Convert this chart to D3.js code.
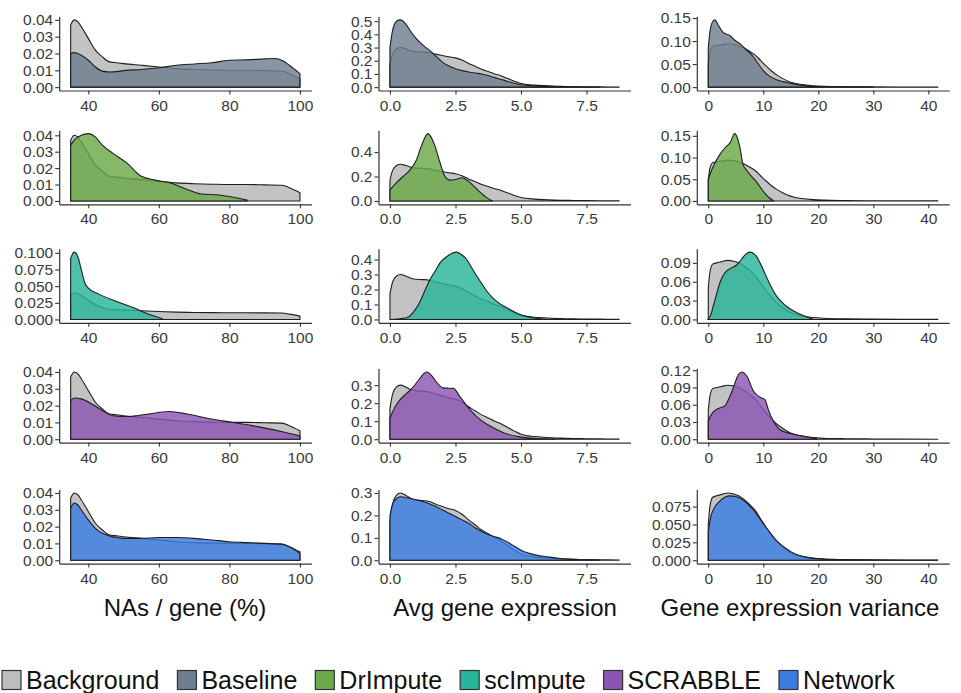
<!DOCTYPE html>
<html><head><meta charset="utf-8">
<script src="https://cdn.jsdelivr.net/npm/d3@7"></script>
<style>body{margin:0;background:#fff;} svg{display:block;} text{font-family:"Liberation Sans",Arial,Helvetica,sans-serif;}</style>
</head><body><svg id="chart" width="961" height="693"></svg>
<script>
// ---------- DATA ----------
const methods = ["Baseline","DrImpute","scImpute","SCRABBLE","Network"];
const legendLabels = ["Background","Baseline","DrImpute","scImpute","SCRABBLE","Network"];
const metricTitles = ["NAs / gene (%)","Avg gene expression","Gene expression variance"];

// Column 1: NAs / gene (%)
const naBackgroundX = [35,36,37,38,40,42,44,46,48,50,55,60,65,70,75,80,85,90,95,97,100];
const naBackgroundY = [0.037,0.040,0.039,0.036,0.029,0.022,0.018,0.015,0.0145,0.014,0.013,0.012,0.011,0.0105,0.0102,0.010,0.010,0.0098,0.0096,0.008,0.005];
const naBaselineX = [35,36,37,38,40,42,44,46,48,50,55,60,65,70,75,80,85,90,93,95,97,100];
const naBaselineY = [0.020,0.0205,0.020,0.019,0.016,0.012,0.0095,0.009,0.0092,0.0098,0.0105,0.0115,0.013,0.0138,0.0145,0.016,0.0162,0.0168,0.017,0.0158,0.013,0.008];
const naDrImputeX = [35,36,38,40,42,44,47,51,55,59,64,68,72,77,83,85];
const naDrImputeY = [0.034,0.037,0.040,0.041,0.039,0.034,0.029,0.023,0.015,0.0127,0.0105,0.007,0.0042,0.0036,0.0015,0.0005];
const naScImputeX = [35,36,37,38,39,40,43,48,53,57,61];
const naScImputeY = [0.092,0.101,0.095,0.075,0.055,0.047,0.038,0.027,0.017,0.008,0.001];
const naScrabbleX = [35,36,38,41,44,47,51,57,63,68,75,81,88,95,100];
const naScrabbleY = [0.023,0.0245,0.024,0.021,0.017,0.014,0.0135,0.015,0.0165,0.015,0.012,0.010,0.0075,0.0045,0.002];
const naNetworkX = [35,36,37,38,40,42,44,46,48,50,55,60,65,70,75,80,85,90,95,97,100];
const naNetworkY = [0.031,0.034,0.033,0.030,0.024,0.019,0.016,0.0145,0.0135,0.013,0.013,0.0135,0.0135,0.013,0.012,0.011,0.0105,0.010,0.0095,0.008,0.004];

// Column 2: Avg gene expression
const exBackgroundX = [0,0.1,0.25,0.4,0.6,0.8,1.0,1.25,1.5,1.75,2.0,2.25,2.5,2.75,3.0,3.25,3.5,3.75,4.0,4.25,4.5,4.75,5.0,5.5,6.0,6.5,7.0,7.5,8.0,8.74];
const exBackgroundY = [0.17,0.25,0.29,0.30,0.29,0.275,0.268,0.266,0.262,0.25,0.24,0.23,0.222,0.205,0.18,0.158,0.135,0.118,0.1,0.085,0.065,0.045,0.028,0.015,0.01,0.006,0.004,0.003,0.002,0.001];
const exBaselineX = [0,0.1,0.25,0.4,0.6,0.8,1.0,1.25,1.5,1.75,2.0,2.25,2.5,2.75,3.0,3.25,3.5,3.75,4.0,4.25,4.5,4.75,5.0,5.5,6.0,6.5,7.0,7.5,8.0];
const exBaselineY = [0.3,0.43,0.5,0.51,0.48,0.42,0.37,0.32,0.28,0.235,0.19,0.16,0.14,0.125,0.115,0.107,0.1,0.088,0.072,0.058,0.043,0.03,0.018,0.01,0.006,0.004,0.002,0.001,0.0005];
const exDrImputeX = [0,0.25,0.5,0.75,1.0,1.2,1.45,1.7,1.9,2.1,2.3,2.5,2.75,3.0,3.25,3.5,3.7,3.9];
const exDrImputeY = [0.09,0.15,0.2,0.25,0.33,0.45,0.55,0.46,0.32,0.2,0.17,0.175,0.19,0.16,0.11,0.06,0.025,0.002];
const exScImputeX = [0,0.3,0.64,0.9,1.15,1.35,1.53,1.75,1.91,2.1,2.3,2.54,2.75,2.93,3.1,3.31,3.5,3.69,4.07,4.58,4.96,5.47,5.98];
const exScImputeY = [0,0.003,0.011,0.05,0.12,0.2,0.267,0.33,0.378,0.41,0.435,0.449,0.43,0.4,0.35,0.29,0.24,0.19,0.12,0.067,0.033,0.011,0.001];
const exScrabbleX = [0,0.2,0.38,0.6,0.83,1.05,1.27,1.4,1.55,1.72,2.03,2.25,2.42,2.67,3.05,3.44,3.82,4.33,4.96,5.6,6.3];
const exScrabbleY = [0.118,0.18,0.218,0.25,0.28,0.32,0.36,0.373,0.36,0.327,0.285,0.283,0.282,0.236,0.164,0.109,0.073,0.036,0.013,0.004,0.001];
const exNetworkX = [0,0.1,0.25,0.4,0.6,0.8,1.0,1.25,1.5,1.75,2.0,2.25,2.5,2.75,3.0,3.25,3.5,3.75,4.0,4.25,4.5,4.75,5.0,5.5,6.0,6.5,7.0,7.5,8.0];
const exNetworkY = [0.2,0.25,0.275,0.283,0.28,0.275,0.27,0.262,0.252,0.24,0.225,0.21,0.195,0.18,0.165,0.145,0.128,0.115,0.105,0.095,0.08,0.062,0.045,0.025,0.015,0.008,0.004,0.002,0.0005];

// Column 3: Gene expression variance
const vaBackgroundX = [0,0.3,0.8,1.5,2.5,3.5,4.5,5.5,6.5,7.5,8.5,9.5,10.5,11.5,12.5,13.5,14.5,15.5,17,19,21,25,30,35,41.7];
const vaBackgroundY = [0.05,0.075,0.088,0.09,0.092,0.094,0.093,0.09,0.085,0.078,0.07,0.058,0.046,0.035,0.026,0.019,0.013,0.009,0.0055,0.003,0.0018,0.0009,0.0005,0.0003,0.0001];
const vaBaselineX = [0,0.3,0.7,1.2,1.8,2.7,3.9,5,5.8,7,8.2,9,10,11,12.4,13.5,14.9,16.5,17.9,20,25,30];
const vaBaselineY = [0.085,0.12,0.14,0.146,0.135,0.119,0.112,0.1,0.094,0.08,0.066,0.052,0.036,0.025,0.016,0.012,0.0086,0.005,0.003,0.0015,0.0005,0.0001];
const vaDrImputeX = [0,0.5,1,2,3,4,4.8,5.3,5.8,6.3,7,8,9,10,11,11.8];
const vaDrImputeY = [0.05,0.068,0.082,0.105,0.122,0.135,0.155,0.145,0.12,0.085,0.07,0.055,0.04,0.022,0.008,0.001];
const vaScImputeX = [0,0.5,0.9,1.5,2.1,2.7,3.3,4.2,5.2,5.8,6.4,7,7.6,8.2,8.8,9.4,10,11.2,12.4,14.2,16.1,17.9,19];
const vaScImputeY = [0,0.008,0.021,0.04,0.058,0.07,0.077,0.082,0.087,0.093,0.1,0.105,0.107,0.105,0.1,0.09,0.079,0.056,0.037,0.021,0.0106,0.004,0.0005];
const vaScrabbleX = [0,0.7,1.5,3,4.2,5.5,6.1,7,8.2,9.4,10.3,10.9,11.8,13,15.5,17.9,19.7];
const vaScrabbleY = [0.032,0.045,0.052,0.058,0.081,0.1125,0.117,0.11,0.084,0.073,0.069,0.052,0.032,0.017,0.0087,0.004,0.001];
const vaNetworkX = [0,0.5,1,2,3,4,5,6,7,8,9,10,11,12,13,14,15,16,18,20,25,30,41.7];
const vaNetworkY = [0.04,0.062,0.072,0.082,0.088,0.09,0.089,0.086,0.08,0.072,0.062,0.051,0.041,0.031,0.023,0.017,0.012,0.008,0.004,0.002,0.0008,0.0003,0];

// Tick values
const xTicksNA = [40,60,80,100];
const xTicksEx = [0,2.5,5,7.5];
const xTicksVa = [0,10,20,30,40];
const yTicksNA = [[0,0.01,0.02,0.03,0.04],[0,0.01,0.02,0.03,0.04],[0,0.025,0.05,0.075,0.1],[0,0.01,0.02,0.03,0.04],[0,0.01,0.02,0.03,0.04]];
const yTicksEx = [[0,0.1,0.2,0.3,0.4,0.5],[0,0.2,0.4],[0,0.1,0.2,0.3,0.4],[0,0.1,0.2,0.3],[0,0.1,0.2,0.3]];
const yTicksVa = [[0,0.05,0.1,0.15],[0,0.05,0.1,0.15],[0,0.03,0.06,0.09],[0,0.03,0.06,0.09,0.12],[0,0.025,0.05,0.075]];

// ---------- ASSEMBLY ----------
const zip = (xs, ys) => xs.map((x,i) => [x, ys[i]]);
const columns = [
  { bg: zip(naBackgroundX, naBackgroundY),
    m: [zip(naBaselineX,naBaselineY), zip(naDrImputeX,naDrImputeY), zip(naScImputeX,naScImputeY), zip(naScrabbleX,naScrabbleY), zip(naNetworkX,naNetworkY)],
    xTicks: xTicksNA, xFmt: d3.format("d"), yTicks: yTicksNA },
  { bg: zip(exBackgroundX, exBackgroundY),
    m: [zip(exBaselineX,exBaselineY), zip(exDrImputeX,exDrImputeY), zip(exScImputeX,exScImputeY), zip(exScrabbleX,exScrabbleY), zip(exNetworkX,exNetworkY)],
    xTicks: xTicksEx, xFmt: d3.format(".1f"), yTicks: yTicksEx },
  { bg: zip(vaBackgroundX, vaBackgroundY),
    m: [zip(vaBaselineX,vaBaselineY), zip(vaDrImputeX,vaDrImputeY), zip(vaScImputeX,vaScImputeY), zip(vaScrabbleX,vaScrabbleY), zip(vaNetworkX,vaNetworkY)],
    xTicks: xTicksVa, xFmt: d3.format("d"), yTicks: yTicksVa }
];
const yFmt = ticks => {
  const dec = Math.max(...ticks.map(t => { const s = String(t); const i = s.indexOf("."); return i < 0 ? 0 : s.length - i - 1; }));
  return d3.format("." + Math.max(dec, 1) + "f");
};

const colors = { Background:"#bdbdbd", Baseline:"#6e7f90", DrImpute:"#6aaa48", scImpute:"#28b49a", SCRABBLE:"#8c55b4", Network:"#3a7ee0" };

// ---------- LAYOUT ----------
const colX = [[59.2,311.4],[378.5,630.5],[696.8,949.2]];
const titleX = [185, 505, 800];
const rowBottom = [90.5, 204.3, 322.8, 442.6, 563.6];
const panelH = 74;

const svg = d3.select("#chart");

columns.forEach((col, ci) => {
  const allX = col.bg.map(d=>d[0]).concat(...col.m.map(s => s.map(d=>d[0])));
  const [xmin, xmax] = d3.extent(allX);
  const pad = (xmax - xmin) * 0.05;
  const x = d3.scaleLinear().domain([xmin - pad, xmax + pad]).range(colX[ci]);
  methods.forEach((mName, ri) => {
    const series = col.m[ri];
    const ymax = d3.max(col.bg.concat(series), d => d[1]);
    const y = d3.scaleLinear().domain([-0.05*ymax, 1.05*ymax]).range([rowBottom[ri], rowBottom[ri] - panelH]);
    const g = svg.append("g");
    const area = d3.area().x(d => x(d[0])).y0(y(0)).y1(d => y(d[1])).curve(d3.curveMonotoneX);
    g.append("path").attr("d", area(col.bg))
      .attr("fill", colors.Background).attr("fill-opacity", 0.9)
      .attr("stroke", "#1e1e1e").attr("stroke-width", 1.1);
    g.append("path").attr("d", area(series))
      .attr("fill", colors[mName]).attr("fill-opacity", 0.82)
      .attr("stroke", "#1e1e1e").attr("stroke-width", 1.1);

    const xAxis = d3.axisBottom(x).tickValues(col.xTicks).tickFormat(col.xFmt).tickSize(4).tickSizeOuter(0);
    const ya = d3.axisLeft(y).tickValues(col.yTicks[ri]).tickFormat(yFmt(col.yTicks[ri])).tickSize(4).tickSizeOuter(0);
    const gx = svg.append("g").attr("transform", `translate(0,${rowBottom[ri]})`).call(xAxis);
    const gy = svg.append("g").attr("transform", `translate(${colX[ci][0]},0)`).call(ya);
    [gx, gy].forEach(ax => {
      ax.select(".domain").attr("stroke", "#333").attr("stroke-width", 1.2);
      ax.selectAll(".tick line").attr("stroke", "#333").attr("stroke-width", 1.1);
      ax.selectAll(".tick text").attr("fill", "#3a3a3a").style("font-size", "15.5px");
    });
    gy.selectAll(".tick text").attr("x", -6);
    gx.selectAll(".tick text").attr("y", 9);
  });
  svg.append("text").attr("x", titleX[ci]).attr("y", 616)
    .attr("text-anchor", "middle").style("font-size", "24px").attr("fill", "#111")
    .text(metricTitles[ci]);
});

// ---------- LEGEND ----------
const boxS = 19, gapBT = 5, gapItem = 18;
let lx = 2;
legendLabels.forEach((lab, i) => {
  const g = svg.append("g").attr("transform", `translate(${lx},${680 - boxS/2})`);
  g.append("rect").attr("width", boxS).attr("height", boxS)
    .attr("fill", colors[lab]).attr("stroke", "#333").attr("stroke-width", 1.2);
  const t = g.append("text").attr("x", boxS + gapBT).attr("y", boxS/2).attr("dy", "0.36em")
    .style("font-size", "25px").attr("fill", "#111").text(lab);
  lx += boxS + gapBT + t.node().getComputedTextLength() + gapItem;
});
</script>
</body></html>
